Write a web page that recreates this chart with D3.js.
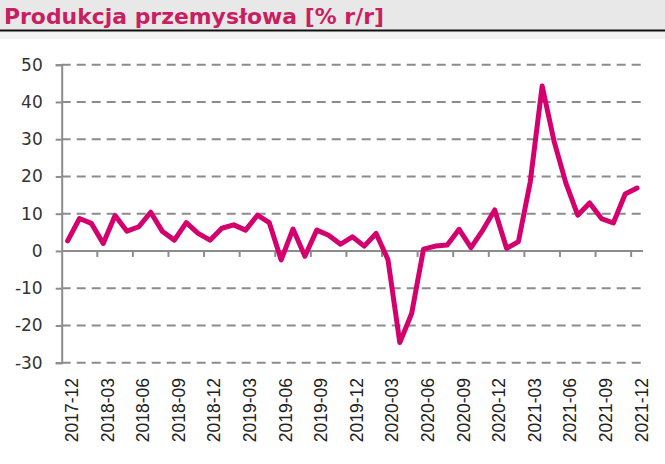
<!DOCTYPE html>
<html>
<head>
<meta charset="utf-8">
<script src="https://cdn.jsdelivr.net/npm/d3@7"></script>
<style>
  body { margin: 0; background: #fff; }
</style>
</head>
<body>
<svg class="chart"></svg>
<script>
const title = "Produkcja przemysłowa [% r/r]";

const months = [
    "2017-12",
    "2018-01", "2018-02", "2018-03", "2018-04", "2018-05", "2018-06",
    "2018-07", "2018-08", "2018-09", "2018-10", "2018-11", "2018-12",
    "2019-01", "2019-02", "2019-03", "2019-04", "2019-05", "2019-06",
    "2019-07", "2019-08", "2019-09", "2019-10", "2019-11", "2019-12",
    "2020-01", "2020-02", "2020-03", "2020-04", "2020-05", "2020-06",
    "2020-07", "2020-08", "2020-09", "2020-10", "2020-11", "2020-12",
    "2021-01", "2021-02", "2021-03", "2021-04", "2021-05", "2021-06",
    "2021-07", "2021-08", "2021-09", "2021-10", "2021-11", "2021-12"
];

const values = [
    2.7,
    8.7, 7.4, 2.0, 9.5, 5.3, 6.5,
    10.4, 5.2, 2.9, 7.6, 4.7, 2.9,
    6.1, 7.0, 5.6, 9.6, 7.6, -2.4,
    5.9, -1.4, 5.6, 4.2, 1.8, 3.8,
    1.3, 4.7, -2.3, -24.6, -16.8, 0.5,
    1.3, 1.6, 5.8, 0.9, 5.6, 11.0,
    0.7, 2.5, 18.6, 44.3, 29.5, 18.2,
    9.6, 12.9, 8.7, 7.5, 15.3, 16.9
];

const yTicks = [50, 40, 30, 20, 10, 0, -10, -20, -30];
// every third month gets a label
const xLabels = months.filter((m, i) => i % 3 === 0);

const width = 665;
const height = 464;
const pink = "#d4006e";

const svg = d3.select(".chart")
    .attr("width", width)
    .attr("height", height);

// title band
svg.append("rect")
    .attr("x", 0).attr("y", 0)
    .attr("width", width).attr("height", 30)
    .attr("fill", "#e8e8e8");
svg.append("rect")
    .attr("x", 0).attr("y", 31)
    .attr("width", width).attr("height", 8)
    .attr("fill", "#f3f3f3");
svg.append("line")
    .attr("x1", 0).attr("x2", width)
    .attr("y1", 30.5).attr("y2", 30.5)
    .attr("stroke", "#111")
    .attr("stroke-width", 2);
svg.append("text")
    .attr("x", 4)
    .attr("y", 24)
    .attr("font-family", "DejaVu Sans")
    .attr("font-weight", "bold")
    .attr("font-size", 21)
    .attr("fill", "#c81f60")
    .attr("textLength", 380)
    .attr("lengthAdjust", "spacingAndGlyphs")
    .text(title);

const x = d3.scaleBand()
    .domain(months)
    .range([61.7, 643]);

const y = d3.scaleLinear()
    .domain([-30, 50])
    .range([362.7, 64.7]);

// dashed gridlines
svg.append("g")
    .selectAll("line")
    .data(yTicks.filter(d => d !== 0))
    .enter().append("line")
    .attr("x1", 61.7).attr("x2", 643)
    .attr("y1", d => y(d)).attr("y2", d => y(d))
    .attr("stroke", "#8c8c8c")
    .attr("stroke-width", 2)
    .attr("stroke-dasharray", "9,6");

// y axis
const yAxis = svg.append("g")
    .attr("transform", "translate(61.7,0)")
    .call(d3.axisLeft(y).tickValues(yTicks).tickFormat(d => String(d)).tickSize(6).tickPadding(13));
yAxis.select(".domain").attr("stroke", "#8c8c8c").attr("stroke-width", 2);
yAxis.selectAll(".tick line").attr("stroke", "#8c8c8c").attr("stroke-width", 2);
yAxis.selectAll(".tick text")
    .attr("font-family", "DejaVu Sans")
    .attr("font-size", 17)
    .attr("fill", "#333");

// zero line with ticks every third month
svg.append("line")
    .attr("x1", 61.7).attr("x2", 643)
    .attr("y1", y(0)).attr("y2", y(0))
    .attr("stroke", "#8c8c8c")
    .attr("stroke-width", 2);
svg.append("g")
    .selectAll("line")
    .data(months.filter((m, i) => i > 0 && i % 3 === 0))
    .enter().append("line")
    .attr("x1", d => x(d)).attr("x2", d => x(d))
    .attr("y1", y(0)).attr("y2", y(0) + 6)
    .attr("stroke", "#8c8c8c")
    .attr("stroke-width", 2);

// x labels
svg.append("g")
    .selectAll("text")
    .data(xLabels)
    .enter().append("text")
    .attr("transform", d => `translate(${x(d) + x.bandwidth() / 2 + 10.5},378) rotate(-90)`)
    .attr("text-anchor", "end")
    .attr("font-family", "Liberation Sans")
    .attr("font-size", 17.5)
    .attr("fill", "#222")
    .text(d => d);

// the series
const line = d3.line()
    .x((d, i) => x(months[i]) + x.bandwidth() / 2)
    .y(d => y(d));

svg.append("path")
    .datum(values)
    .attr("d", line)
    .attr("fill", "none")
    .attr("stroke", pink)
    .attr("stroke-width", 5)
    .attr("stroke-linejoin", "round")
    .attr("stroke-linecap", "round");
</script>
</body>
</html>
